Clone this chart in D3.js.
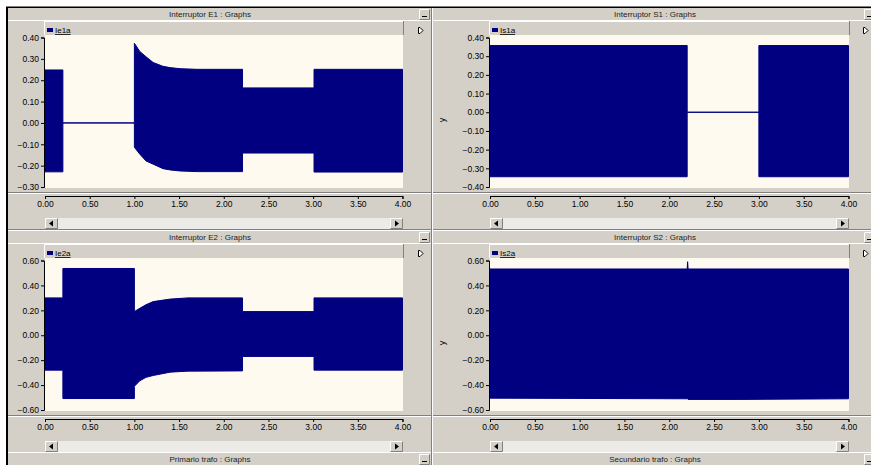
<!DOCTYPE html>
<html>
<head>
<meta charset="utf-8">
<script src="https://cdn.jsdelivr.net/npm/d3@7"></script>
<style>
  body { margin: 0; background: #fff; }
  svg { display: block; font-family: "Liberation Sans", Arial, sans-serif; }
</style>
</head>
<body>
<svg id="chart"></svg>
<script>
// envelope of each trace: [time s, upper, lower]
const ie1a = [
  [0, 0.248, -0.229], [0.2, 0.248, -0.229],
  [0.2, 0, 0], [1.0, 0, 0],
  [1.0, 0.373, -0.114], [1.06, 0.335, -0.146], [1.13, 0.31, -0.178],
  [1.21, 0.283, -0.193], [1.32, 0.265, -0.214], [1.40, 0.259, -0.220],
  [1.51, 0.254, -0.225], [1.7, 0.251, -0.228], [2.21, 0.251, -0.228],
  [2.21, 0.164, -0.141], [3.01, 0.164, -0.141],
  [3.01, 0.251, -0.230], [4.0, 0.251, -0.230]
];
const is1a = [
  [0, 0.357, -0.345], [2.2, 0.357, -0.345],
  [2.2, 0, 0], [3.0, 0, 0],
  [3.0, 0.357, -0.345], [4.0, 0.357, -0.345]
];
const ie2a = [
  [0, 0.30, -0.28], [0.2, 0.30, -0.28],
  [0.2, 0.536, -0.508], [1.0, 0.536, -0.508],
  [1.0, 0.19, -0.41], [1.06, 0.216, -0.366], [1.13, 0.245, -0.338],
  [1.21, 0.27, -0.323], [1.40, 0.29, -0.296], [1.6, 0.30, -0.288],
  [2.21, 0.30, -0.286],
  [2.21, 0.19, -0.17], [3.01, 0.19, -0.17],
  [3.01, 0.30, -0.28], [4.0, 0.30, -0.28]
];
const is2a = [
  [0, 0.532, -0.505], [2.2, 0.532, -0.51],
  [2.205, 0.59, -0.51], [2.21, 0.532, -0.515],
  [2.8, 0.532, -0.515], [4.0, 0.532, -0.51]
];

const timeTicks = [0, 0.5, 1, 1.5, 2, 2.5, 3, 3.5, 4];
const ticksE1 = [0.4, 0.3, 0.2, 0.1, 0, -0.1, -0.2, -0.3];
const ticksS1 = [0.4, 0.3, 0.2, 0.1, 0, -0.1, -0.2, -0.3, -0.4];
const ticksRow2 = [0.6, 0.4, 0.2, 0, -0.2, -0.4, -0.6];

const W = 871, H = 465;
const grey = '#d4d0c8', cream = '#fffaf0', navy = '#000080', dark = '#808080';

const cols = [
  { x0: 8, x1: 431, plot: [45, 403], axisX: 44, btn: 419, icon: 418, yLabel: false },
  { x0: 433, x1: 871, plot: [490, 849], axisX: 489, btn: 864, icon: 863, yLabel: true }
];

const panels = [
  { title: 'Interruptor E1 : Graphs', name: 'Ie1a', data: ie1a, ticks: ticksE1, col: 0, top: 8 },
  { title: 'Interruptor S1 : Graphs', name: 'Is1a', data: is1a, ticks: ticksS1, col: 1, top: 8 },
  { title: 'Interruptor E2 : Graphs', name: 'Ie2a', data: ie2a, ticks: ticksRow2, col: 0, top: 231 },
  { title: 'Interruptor S2 : Graphs', name: 'Is2a', data: is2a, ticks: ticksRow2, col: 1, top: 231 },
  { title: 'Primario trafo : Graphs', col: 0, top: 453 },
  { title: 'Secundario trafo : Graphs', col: 1, top: 453 }
];

const svg = d3.select('#chart').attr('width', W).attr('height', H);

// window frame
svg.append('rect').attr('x', 6).attr('y', 6.5).attr('width', W).attr('height', H).attr('fill', '#000');
svg.append('rect').attr('x', 8).attr('y', 8).attr('width', W).attr('height', H).attr('fill', grey);
svg.append('line').attr('x1', 431.5).attr('x2', 431.5).attr('y1', 8).attr('y2', H).attr('stroke', dark);
svg.append('line').attr('x1', 432.5).attr('x2', 432.5).attr('y1', 8).attr('y2', H).attr('stroke', '#fff');

const bevel = (g, x, y, w, h) => {
  g.append('rect').attr('x', x).attr('y', y).attr('width', w).attr('height', h).attr('fill', grey);
  g.append('path').attr('d', `M${x + 0.5},${y + h - 0.5}V${y + 0.5}H${x + w - 0.5}`)
    .attr('fill', 'none').attr('stroke', '#fff');
  g.append('path').attr('d', `M${x + 0.5},${y + h - 0.5}H${x + w - 0.5}V${y + 0.5}`)
    .attr('fill', 'none').attr('stroke', dark);
};

panels.forEach((p, i) => {
  const c = cols[p.col];
  const t = p.top;
  const g = svg.append('g');

  // title bar
  g.append('line').attr('x1', c.x0).attr('x2', c.x1).attr('y1', t - 0.5).attr('y2', t - 0.5)
    .attr('stroke', i < 2 ? '#000' : '#fff');
  g.append('text').attr('x', i % 2 ? 655 : 210).attr('y', t + 9)
    .attr('text-anchor', 'middle').attr('font-size', 8).attr('fill', '#222').text(p.title);
  bevel(g, c.btn, t + 1, 11, 11);
  g.append('line').attr('x1', c.btn + 3).attr('x2', c.btn + 8).attr('y1', t + 8.5).attr('y2', t + 8.5)
    .attr('stroke', '#000');

  if (!p.data) return;

  g.append('line').attr('x1', c.x0).attr('x2', c.x1).attr('y1', t + 12.5).attr('y2', t + 12.5)
    .attr('stroke', '#fff');

  // legend strip
  const [px0, px1] = c.plot;
  g.append('path').attr('d', `M${px0 - 0.5},${t + 27}V${t + 13.5}H${px1}`)
    .attr('fill', 'none').attr('stroke', '#fff');
  g.append('line').attr('x1', px1 + 0.5).attr('x2', px1 + 0.5).attr('y1', t + 13).attr('y2', t + 27)
    .attr('stroke', dark);
  g.append('rect').attr('x', px0 + 2).attr('y', t + 20).attr('width', 6).attr('height', 4).attr('fill', navy);
  g.append('text').attr('x', px0 + 10).attr('y', t + 25).attr('font-size', 8).attr('fill', '#000')
    .attr('text-decoration', 'underline').text(p.name);

  // cursor icon
  g.append('path').attr('d', `M${c.icon + 0.5},${t + 19.5}V${t + 25.5}H${c.icon + 2}L${c.icon + 5},${t + 22.5}L${c.icon + 2},${t + 19.5}Z`)
    .attr('fill', '#fff').attr('stroke', '#000');

  // plot area
  g.append('rect').attr('x', px0).attr('y', t + 27).attr('width', px1 - px0).attr('height', 153)
    .attr('fill', cream);

  const x = d3.scaleLinear().domain([0, 4]).range([px0, px1 - 0.5]);
  const y = d3.scaleLinear().domain(d3.extent(p.ticks)).range([t + 179, t + 29.5]);

  const clipId = 'clip' + i;
  g.append('clipPath').attr('id', clipId).append('rect')
    .attr('x', px0).attr('y', t + 27).attr('width', px1 - px0).attr('height', 153);

  const area = d3.area()
    .x(d => x(d[0]))
    .y0(d => y(d[2]))
    .y1(d => y(d[1]));

  g.append('path').datum(p.data).attr('clip-path', `url(#${clipId})`)
    .attr('d', area).attr('fill', navy).attr('stroke', navy).attr('stroke-width', 1);

  // groove under the plot
  g.append('line').attr('x1', c.x0).attr('x2', c.x1).attr('y1', t + 184.5).attr('y2', t + 184.5).attr('stroke', dark);
  g.append('line').attr('x1', c.x0).attr('x2', c.x1).attr('y1', t + 185.5).attr('y2', t + 185.5).attr('stroke', '#fff');

  // axes
  const fmt = d3.format('.2f');
  const yAxis = g.append('g').attr('transform', `translate(${c.axisX},0)`)
    .call(d3.axisLeft(y).tickValues(p.ticks).tickFormat(fmt).tickSize(3).tickPadding(2));
  const xAxis = g.append('g').attr('transform', `translate(0,${t + 188})`)
    .call(d3.axisBottom(x).tickValues(timeTicks).tickFormat(fmt).tickSize(3).tickPadding(2));
  [yAxis, xAxis].forEach(a => {
    a.selectAll('path,line').attr('stroke', '#000');
    a.selectAll('text').attr('font-size', 8.5).attr('fill', '#000')
      .attr('font-family', '"Liberation Sans", Arial, sans-serif');
  });

  if (c.yLabel) {
    g.append('text').attr('transform', `translate(${c.x0 + 12},${t + 112}) rotate(-90)`)
      .attr('text-anchor', 'middle').attr('font-size', 9).attr('fill', '#000').text('y');
  }

  // scrollbar
  g.append('rect').attr('x', px0).attr('y', t + 210).attr('width', px1 - px0).attr('height', 11)
    .attr('fill', '#ecebe7');
  bevel(g, px0, t + 210, 13, 11);
  bevel(g, px1 - 13, t + 210, 13, 11);
  g.append('path').attr('d', `M${px0 + 4},${t + 215.5}l4,-3v6z`).attr('fill', '#000');
  g.append('path').attr('d', `M${px1 - 4},${t + 215.5}l-4,-3v6z`).attr('fill', '#000');

  // panel bottom edge
  g.append('line').attr('x1', c.x0).attr('x2', c.x1).attr('y1', t + 221.5).attr('y2', t + 221.5).attr('stroke', dark);
});
</script>
</body>
</html>
